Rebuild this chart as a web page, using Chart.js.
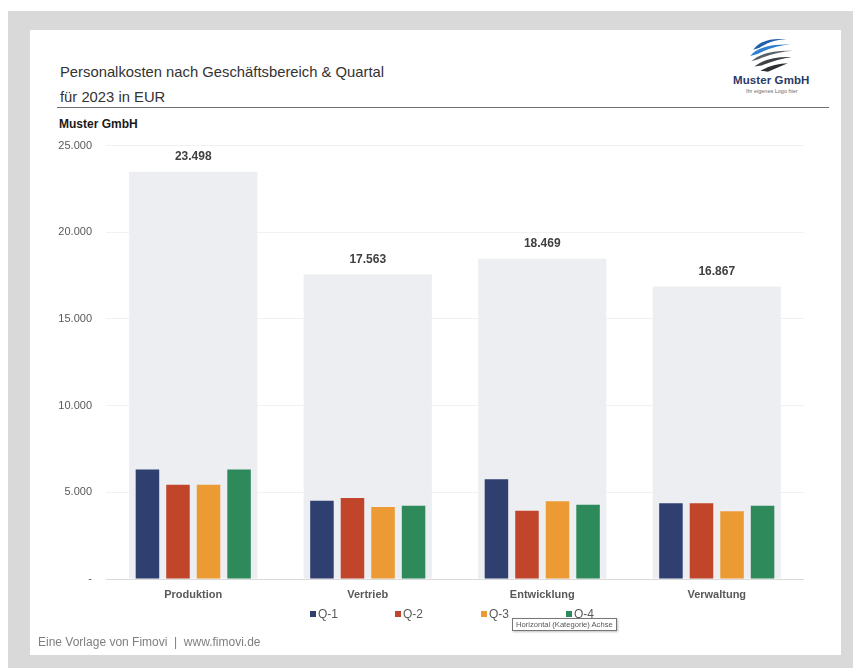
<!DOCTYPE html>
<html lang="de">
<head>
<meta charset="utf-8">
<title>Personalkosten nach Geschäftsbereich &amp; Quartal</title>
<script src="https://cdn.jsdelivr.net/npm/chart.js@4.4.1/dist/chart.umd.min.js"></script>
<style>
  html, body { margin: 0; padding: 0; background: #ffffff; }
  body { width: 853px; height: 668px; position: relative; overflow: hidden;
         font-family: "Liberation Sans", Arial, sans-serif; }
  #frame { position: absolute; left: 8px; top: 11px; width: 845px; height: 657px; background: #d9d9d9; }
  #panel { position: absolute; left: 30px; top: 30px; width: 811px; height: 625px; background: #ffffff; }
  .txt { position: absolute; white-space: nowrap; line-height: 1; }
  #title1 { left: 60px; top: 65px; font-size: 14.8px; color: #333333; }
  #title2 { left: 60px; top: 90px; font-size: 14.8px; color: #333333; }
  #rule { position: absolute; left: 57px; top: 107px; width: 772px; height: 1px; background: #6f6f6f; }
  #company { left: 59px; top: 118px; font-size: 12px; font-weight: bold; color: #1a1a1a; }
  #chartBox { position: absolute; left: 30px; top: 125px; width: 811px; height: 500px; }
  #legend { position: absolute; top: 608px; left: 0; width: 853px; height: 14px; }
  .lg { position: absolute; top: 0; font-size: 12px; color: #595959; line-height: 12px; }
  .lg i { display: inline-block; width: 6px; height: 6px; margin-right: 2px; vertical-align: 1px; }
  #tip { position: absolute; left: 512px; top: 618px; height: 11px; padding: 0 3px;
         background: #ffffff; border: 1px solid #767676; font-size: 7.6px; line-height: 11px;
         color: #575757; box-shadow: 1px 1px 2px rgba(0,0,0,0.25); white-space: nowrap; }
  #footer { left: 38px; top: 636px; font-size: 12px; color: #7f7f7f; }
  #logoName { left: 733px; top: 75px; font-size: 11.5px; font-weight: bold; color: #2b3a67; letter-spacing: 0.1px; }
  #logoSub { left: 746px; top: 89px; font-size: 5.5px; color: #6b6b6b; }
</style>
</head>
<body>
<div id="frame"></div>
<div id="panel"></div>

<div class="txt" id="title1">Personalkosten nach Geschäftsbereich &amp; Quartal</div>
<div class="txt" id="title2">für 2023 in EUR</div>
<div id="rule"></div>
<div class="txt" id="company">Muster GmbH</div>

<!-- company logo: tilted globe made of swooshes -->
<svg style="position:absolute;left:747px;top:36px" width="48" height="38" viewBox="0 0 46 36">
  <path d="M6 13 Q14 1 38 3 Q24 3 12 11 Z" fill="#1f5fae"/>
  <path d="M3 19 Q12 7 42 8 Q26 9 10 17 Z" fill="#2f7fd0"/>
  <path d="M4 24 Q16 13 44 14 Q28 15 11 22 Z" fill="#5a5f66"/>
  <path d="M7 29 Q20 19 43 20 Q30 22 14 28 Z" fill="#3d4147"/>
  <path d="M13 33 Q26 26 39 26 Q30 30 20 34 Z" fill="#2b2e33"/>
</svg>
<div class="txt" id="logoName">Muster GmbH</div>
<div class="txt" id="logoSub">Ihr eigenes Logo hier</div>

<div id="chartBox"><canvas id="chart"></canvas></div>
<div id="legend"></div>
<div id="tip">Horizontal (Kategorie) Achse</div>
<div class="txt" id="footer">Eine Vorlage von Fimovi&nbsp; |&nbsp; www.fimovi.de</div>

<script>
// Geschäftsbereiche
const categories = ['Produktion', 'Vertrieb', 'Entwicklung', 'Verwaltung'];

// Personalkosten je Quartal (EUR)
const q1 = [6310, 4515, 5755, 4367];
const q2 = [5440, 4670, 3942, 4367];
const q3 = [5438, 4150, 4485, 3905];
const q4 = [6310, 4228, 4287, 4228];

// Jahressumme je Bereich (EUR)
const totals = [23498, 17563, 18469, 16867];

const seriesNames = ['Q-1', 'Q-2', 'Q-3', 'Q-4'];
const seriesColors = ['#2f3f70', '#c0452b', '#ec9a34', '#2e8a5b'];

// y-axis range and tick spacing
const yMin = 0, yMax = 25000, yStep = 5000;

// German thousands separator
function fmt(n) {
  return String(Math.round(n)).replace(/\B(?=(\d{3})+(?!\d))/g, '.');
}

const quarterData = [q1, q2, q3, q4];
const datasets = [{
  label: 'Gesamt',
  data: totals,
  grouped: false,            // wide background bar centred on the category
  backgroundColor: '#edeef2',
  categoryPercentage: 1.0,
  barPercentage: 0.735,
  order: 10
}];
quarterData.forEach((vals, i) => {
  datasets.push({
    label: seriesNames[i],
    data: vals,
    backgroundColor: seriesColors[i],
    categoryPercentage: 0.70,
    barPercentage: 0.77,
    order: 0
  });
});

// sum labels above the background bars
const totalLabels = {
  id: 'totalLabels',
  afterDatasetsDraw(chart) {
    const meta = chart.getDatasetMeta(0);
    const ctx = chart.ctx;
    ctx.save();
    ctx.font = 'bold 12px "Liberation Sans", Arial, sans-serif';
    ctx.fillStyle = '#404040';
    ctx.textAlign = 'center';
    ctx.textBaseline = 'middle';
    meta.data.forEach((bar, i) => {
      ctx.fillText(fmt(totals[i]), bar.x, bar.y - 15);
    });
    ctx.restore();
  }
};

new Chart(document.getElementById('chart'), {
  type: 'bar',
  data: { labels: categories, datasets },
  options: {
    responsive: true,
    maintainAspectRatio: false,
    animation: false,
    layout: { padding: { left: 0, right: 37, top: 10, bottom: 20 } },
    plugins: {
      legend: { display: false },
      tooltip: { enabled: false }
    },
    scales: {
      x: {
        type: 'category',
        offset: true,
        grid: { display: false },
        border: { display: false },
        ticks: {
          padding: 1,
          color: '#595959',
          font: { family: '"Liberation Sans", Arial, sans-serif', size: 11, weight: 'bold' }
        },
        afterFit(scale) { scale.height = 26; }
      },
      y: {
        min: yMin,
        max: yMax,
        border: { display: false },
        grid: {
          drawTicks: false,
          color: ctx => ctx.tick && ctx.tick.value === 0 ? '#d9d9d9' : '#f1f1f1',
          lineWidth: 1
        },
        ticks: {
          stepSize: yStep,
          padding: 14,
          color: '#595959',
          font: { family: '"Liberation Sans", Arial, sans-serif', size: 11 },
          callback: v => (v === 0 ? '-' : fmt(v))
        },
        afterFit(scale) { scale.width = 76; }
      }
    }
  },
  plugins: [totalLabels]
});

// legend row under the axis
const legend = document.getElementById('legend');
const legendLeft = [310, 395, 481, 566];
seriesNames.forEach((name, i) => {
  const item = document.createElement('div');
  item.className = 'lg';
  item.style.left = legendLeft[i] + 'px';
  const sw = document.createElement('i');
  sw.style.background = seriesColors[i];
  item.appendChild(sw);
  item.appendChild(document.createTextNode(name));
  legend.appendChild(item);
});
</script>
</body>
</html>
